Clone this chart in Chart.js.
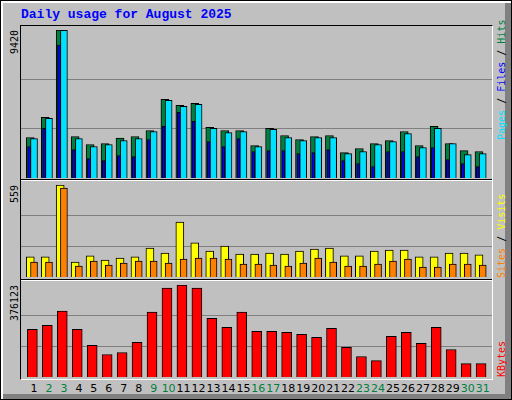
<!DOCTYPE html>
<html>
<head>
<meta charset="utf-8">
<script src="https://cdn.jsdelivr.net/npm/chart.js@4"></script>
<style>
  html, body { margin: 0; padding: 0; background: #fff; }
  #wrap { position: relative; width: 510px; height: 398px; background: #c0c0c0;
    border: 1px solid #000; overflow: hidden; font-family: "DejaVu Sans Mono", monospace; }
  .bev { position: absolute; }
  .title { position: absolute; left: 20px; top: 6px; color: #0000ff; font-weight: bold;
    font-size: 13px; font-family: "Liberation Mono", "DejaVu Sans Mono", monospace; }
  .frame { position: absolute; left: 19px; top: 24px; width: 471px; height: 353px;
    border-left: 1px solid #000; border-top: 1px solid #000;
    border-right: 1px solid #fff; border-bottom: 1px solid #fff; }
  .sep { position: absolute; left: 20px; width: 471px; height: 1px; background: #000; }
  .sepw { position: absolute; left: 20px; width: 471px; height: 1px; background: #fff; }
  canvas { position: absolute; }
  .vl { position: absolute; transform-origin: 0 0; transform: rotate(-90deg);
    white-space: nowrap; font-size: 10px; line-height: 12px; font-family: "DejaVu Sans Mono", monospace; }
  .day { position: absolute; top: 381px; width: 20px; text-align: center; font-size: 11px;
    font-family: "DejaVu Sans", sans-serif; }
</style>
</head>
<body>
<div id="wrap">
  <div class="bev" style="left:0;top:0;width:510px;height:2px;background:#fff"></div>
  <div class="bev" style="left:0;top:0;width:2px;height:398px;background:#fff"></div>
  <div class="bev" style="left:504px;top:2px;width:6px;height:396px;background:#808080"></div>
  <div class="bev" style="left:2px;top:393px;width:508px;height:5px;background:#808080"></div>
  <div class="title">Daily usage for August 2025</div>
  <div class="frame"></div>
  <div class="sep" style="top:178px"></div>
  <div class="sepw" style="top:179px"></div>
  <div class="sep" style="top:278px"></div>
  <div class="sepw" style="top:279px"></div>
  <canvas id="c1" width="471" height="148" style="left:20px;top:29px"></canvas>
  <canvas id="c2" width="471" height="92" style="left:20px;top:184px"></canvas>
  <canvas id="c3" width="471" height="92" style="left:20px;top:284px"></canvas>
  <div class="vl" style="left:8px;top:53px">9420</div>
  <div class="vl" style="left:8px;top:202px">559</div>
  <div class="vl" style="left:8px;top:320px">376123</div>
  <div class="vl" style="left:495px;top:139px"><span style="color:#00e0ff">Pages</span> / <span style="color:#0000ff">Files</span> / <span style="color:#008040">Hits</span></div>
  <div class="vl" style="left:495px;top:277px"><span style="color:#ff8000">Sites</span> / <span style="color:#ffff00">Visits</span></div>
  <div class="vl" style="left:495px;top:376px"><span style="color:#ff0000">KBytes</span></div>
  <div id="days"></div>
</div>
<script>
const days = [1,2,3,4,5,6,7,8,9,10,11,12,13,14,15,16,17,18,19,20,21,22,23,24,25,26,27,28,29,30,31];
const weekend = [2,3,9,10,16,17,23,24,30,31];
const hits  = [2579,3857,9420,2643,2131,2195,2536,2643,3026,5008,4624,4752,3218,3026,3026,2067,3154,2706,2451,2643,2706,1620,1875,2195,2387,2962,2067,3282,2195,1747,1684];
const files = [2515,3793,9400,2515,2003,2131,2387,2515,2962,4944,4560,4688,3154,2898,2962,2003,3090,2579,2387,2579,2579,1556,1684,2131,2323,2834,1939,3154,2195,1492,1556];
const pages = [2003,3154,8460,1811,1236,1108,1428,1364,2451,3282,4177,3601,2323,2003,2515,1684,1747,1747,1556,1620,1811,1108,916,725,1684,1684,1364,1939,1172,916,725];
const visits = [122,122,559,91,128,103,115,122,176,146,334,207,158,188,140,140,146,140,158,170,176,128,128,158,164,164,122,122,146,146,134];
const sites  = [91,91,541,67,97,73,85,97,97,85,109,115,115,109,79,79,73,67,85,115,91,67,67,79,97,109,61,61,79,79,73];
const kbytes = [194927,211396,269049,194927,129034,91970,100207,141388,264929,363766,376123,363766,240223,203159,264929,186689,186689,182571,174333,161979,199042,120797,83735,67262,166097,182571,137270,203159,112561,54908,54908];

const X_MIN = 0.13, X_MAX = 31.62;

function series(vals, shift, color, width, order) {
    return {
        data: vals.map(function (v, i) { return { x: days[i] + shift, y: v }; }),
        backgroundColor: color, borderColor: '#000', borderWidth: 1,
        barThickness: width, grouped: false, order: order, borderSkipped: 'bottom'
    };
}

function makeChart(id, datasets, max) {
    return new Chart(document.getElementById(id), {
        type: 'bar',
        data: { datasets: datasets },
        options: {
            responsive: false, animation: false, devicePixelRatio: 1,
            layout: { padding: 0 },
            plugins: { legend: { display: false }, tooltip: { enabled: false } },
            scales: {
                x: { type: 'linear', min: X_MIN, max: X_MAX, offset: false, display: false },
                y: {
                    min: 0, max: max,
                    afterBuildTicks: function (s) { s.ticks = [{ value: max / 3 }, { value: 2 * max / 3 }]; },
                    afterFit: function (s) { s.width = 0; },
                    ticks: { display: false },
                    border: { display: false },
                    grid: { color: '#808080', lineWidth: 1, drawTicks: false }
                }
            }
        }
    });
}

makeChart('c1', [
    series(hits, -0.25, '#008040', 8, 2),
    series(files, 0.0, '#00e0ff', 7, 1),
    series(pages, -0.33, '#0000ff', 3, 0)
], 9420);
makeChart('c2', [
    series(visits, -0.25, '#ffff00', 8, 1),
    series(sites, 0.0, '#ff8000', 7, 0)
], 559);
makeChart('c3', [
    series(kbytes, -0.11, '#ff0000', 10, 0)
], 376123);

const pitch = 471 / (X_MAX - X_MIN);
const daysDiv = document.getElementById('days');
days.forEach(function (d) {
    const s = document.createElement('div');
    s.className = 'day';
    s.style.left = (20 + (d - X_MIN) * pitch - 10) + 'px';
    s.style.color = weekend.indexOf(d) >= 0 ? '#008040' : '#000';
    s.textContent = d;
    daysDiv.appendChild(s);
});
</script>
</body>
</html>
